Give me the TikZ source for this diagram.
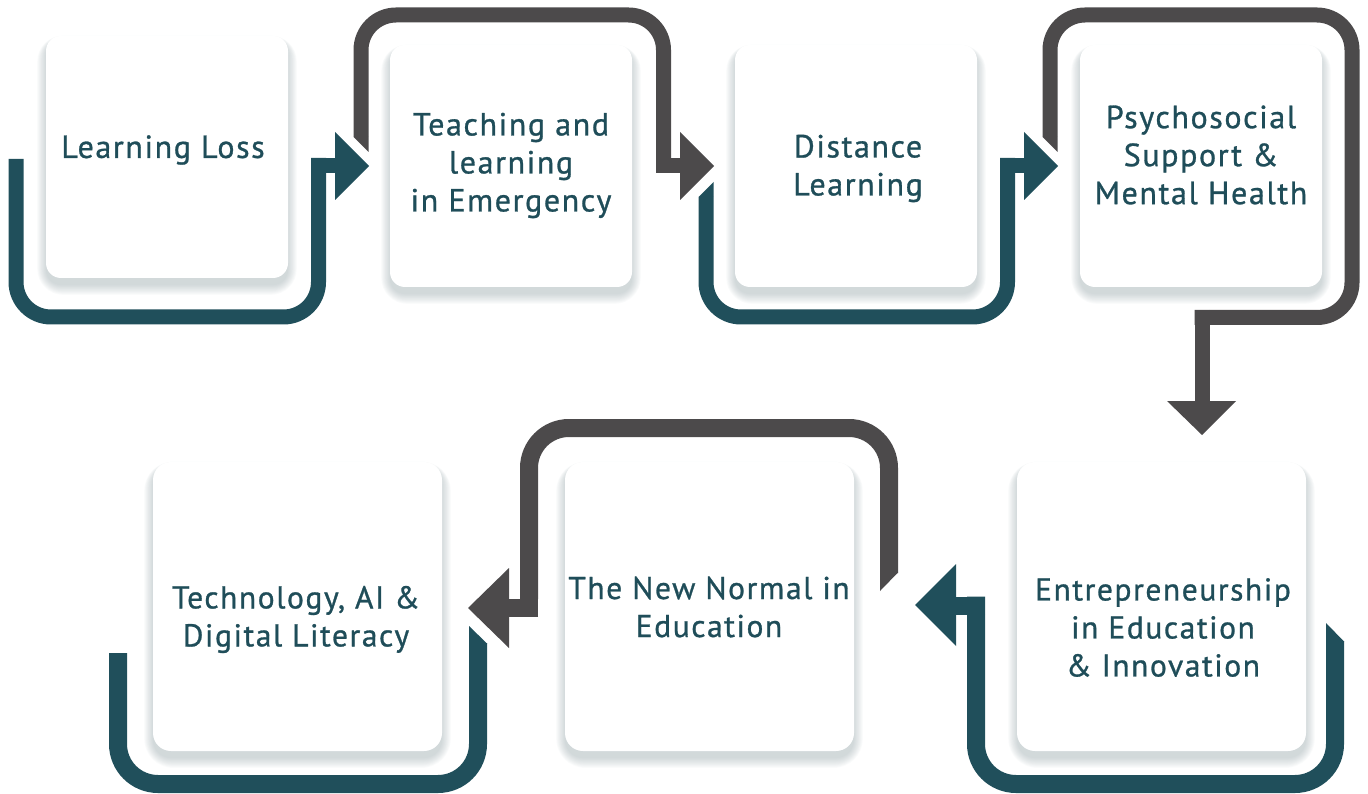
\documentclass[tikz,border=0pt]{standalone}
\usepackage{fontspec}
\setmainfont{PT Sans}[LetterSpace=5, FakeBold=0.9]
\definecolor{tealc}{HTML}{204F5B}
\definecolor{grayc}{HTML}{4C4A4B}
\definecolor{txtc}{HTML}{1F4D59}
\definecolor{shadowc}{HTML}{7E9196}
\newcommand{\softshadow}[5]{%
  \foreach \e in {0,...,11}{%
    \pgfmathsetmacro{\rr}{#5+\e}%
    \fill[shadowc, opacity=0.035, rounded corners=\rr pt]
      ({#1-\e*0.8},{#2+4-\e*0.4}) rectangle ({#3+\e*0.8},{#4+7+\e*0.9});
  }%
}
\begin{document}
\begin{tikzpicture}[x=1pt,y=-1pt,
  boxs/.style={fill=white, rounded corners=15pt, inner sep=0pt, minimum width=242pt, minimum height=242pt},
  boxl/.style={fill=white, rounded corners=18pt, inner sep=0pt, minimum width=289pt, minimum height=289pt},
  txts/.style={text=txtc, align=center, font=\fontsize{32}{38}\selectfont, inner sep=0pt},
  txtl/.style={text=txtc, align=center, font=\fontsize{31.5}{38}\selectfont, inner sep=0pt},
  tline/.style={draw=tealc, line width=15pt, rounded corners=35pt},
  gline/.style={draw=grayc, line width=15pt, rounded corners=35pt},
  tlineL/.style={draw=tealc, line width=18pt, rounded corners=40pt},
  glineL/.style={draw=grayc, line width=18pt, rounded corners=40pt},
  tlineS/.style={draw=tealc, line width=15pt},
  glineS/.style={draw=grayc, line width=15pt},
  tlineLS/.style={draw=tealc, line width=18pt},
  glineLS/.style={draw=grayc, line width=18pt}]
\useasboundingbox (0,0) rectangle (1368,794);

% shadows
\softshadow{46}{36}{288}{278}{15}
\softshadow{390}{45}{632}{287}{15}
\softshadow{735}{45}{977}{287}{15}
\softshadow{1080}{45}{1322}{287}{15}
\softshadow{1017}{462}{1306}{751}{18}
\softshadow{565}{462}{854}{751}{18}
\softshadow{153}{462}{442}{751}{18}

% boxes
\node[boxs] (b1) at (167,157) {};
\node[boxs] (b2) at (511,166) {};
\node[boxs] (b3) at (856,166) {};
\node[boxs] (b4) at (1201,166) {};
\node[boxl] (b5) at (1161.5,606.5) {};
\node[boxl] (b6) at (709.5,606.5) {};
\node[boxl] (b7) at (297.5,606.5) {};

% arrow 1 (teal)
\draw[tline] (16,159) -- (16,317) -- (318.5,317) -- (318.5,158);
\draw[tlineS] (311,165.5) -- (336,165.5);
\fill[tealc] (335,132) -- (369,166) -- (335,200) -- cycle;

% arrow 2 (gray)
\draw[gline] (361,137) -- (361,15) -- (663.5,15) -- (663.5,158);
\draw[glineS] (656,165.5) -- (681,165.5);
\fill[grayc] (353.5,137) -- (368.5,137) -- (368.5,152) -- cycle;
\fill[grayc] (680,132) -- (714,166) -- (680,200) -- cycle;

% arrow 3 (teal)
\draw[tline] (706,197) -- (706,317) -- (1007.5,317) -- (1007.5,158);
\draw[tlineS] (1000,165.5) -- (1025,165.5);
\fill[tealc] (698.5,197) -- (713.5,197) -- (713.5,182) -- cycle;
\fill[tealc] (1024,132) -- (1058,166) -- (1024,200) -- cycle;

% arrow 4 (gray)
\draw[gline] (1050,137) -- (1050,15) -- (1352,15) -- (1352,317.5) -- (1194.5,317.5);
\draw[glineS] (1202,310) -- (1202,402);
\fill[grayc] (1042.5,137) -- (1057.5,137) -- (1057.5,152) -- cycle;
\fill[grayc] (1167,401) -- (1236,401) -- (1202,435) -- cycle;

% arrow 5 (teal, lower)
\draw[tlineL] (1335,641) -- (1335,784) -- (976,784) -- (976,596.5);
\draw[tlineLS] (985,605.5) -- (955,605.5);
\fill[tealc] (1326,641.5) -- (1344,641.5) -- (1326,623) -- cycle;
\fill[tealc] (956,564) -- (915,605) -- (956,646) -- cycle;

% arrow 6 (gray, lower)
\draw[glineL] (889,573) -- (889,428) -- (529,428) -- (529,599);
\draw[glineLS] (538,608) -- (508,608);
\fill[grayc] (880,572.5) -- (898,572.5) -- (880,591) -- cycle;
\fill[grayc] (509,568) -- (468,608) -- (509,648) -- cycle;

% arrow 7 (teal, lower, tail)
\draw[tlineL] (478,643) -- (478,784) -- (118,784) -- (118,653);
\fill[tealc] (469,643.5) -- (487,643.5) -- (469,626) -- cycle;

% texts
\node[txts] (t1) at (163,150) {Learning Loss};
\node[txts] (t2) at (511,165.5) {Teaching and\\learning\\in Emergency};
\node[txts] (t3) at (858,168.5) {Distance\\Learning};
\node[txts] (t4) at (1201,155) {Psychosocial\\Support \&\\Mental Health};
\node[txtl] (t5) at (1163,627.5) {Entrepreneurship\\in Education\\\& Innovation};
\node[txtl] (t6) at (709,607) {The New Normal in\\Education};
\node[txtl] (t7) at (296,619.5) {Technology, AI \&\\Digital Literacy};
\end{tikzpicture}
\end{document}
